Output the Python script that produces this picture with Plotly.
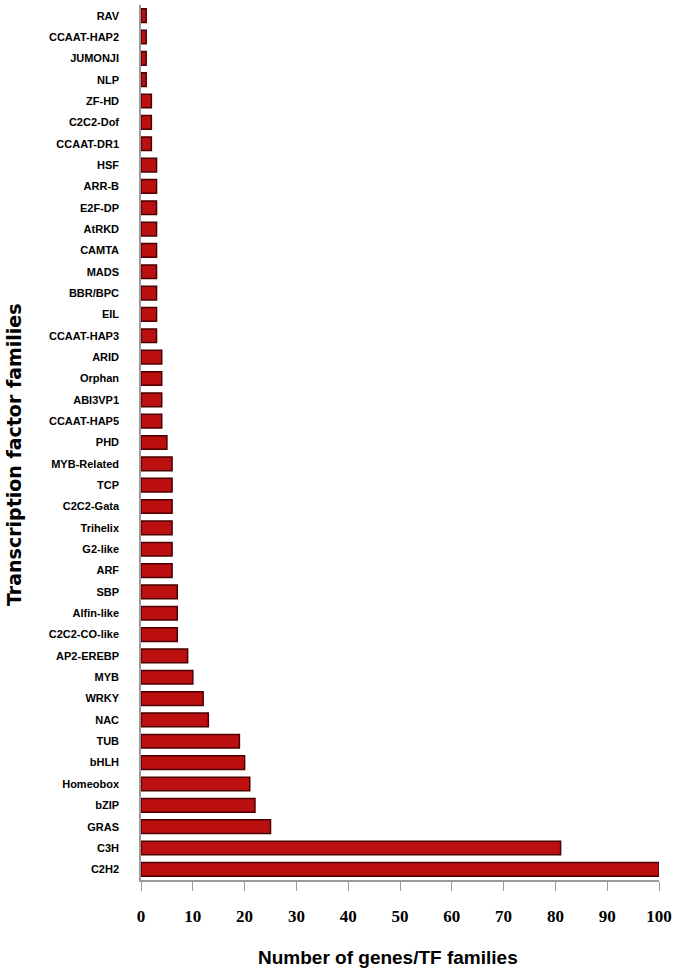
import plotly.graph_objects as go

families = ["RAV", "CCAAT-HAP2", "JUMONJI", "NLP", "ZF-HD", "C2C2-Dof", "CCAAT-DR1",
            "HSF", "ARR-B", "E2F-DP", "AtRKD", "CAMTA", "MADS", "BBR/BPC", "EIL",
            "CCAAT-HAP3", "ARID", "Orphan", "ABI3VP1", "CCAAT-HAP5", "PHD",
            "MYB-Related", "TCP", "C2C2-Gata", "Trihelix", "G2-like", "ARF", "SBP",
            "Alfin-like", "C2C2-CO-like", "AP2-EREBP", "MYB", "WRKY", "NAC", "TUB",
            "bHLH", "Homeobox", "bZIP", "GRAS", "C3H", "C2H2"]
counts = [1, 1, 1, 1, 2, 2, 2,
          3, 3, 3, 3, 3, 3, 3, 3,
          3, 4, 4, 4, 4, 5,
          6, 6, 6, 6, 6, 6, 7,
          7, 7, 9, 10, 12, 13, 19,
          20, 21, 22, 25, 81, 100]
x_ticks = [0, 10, 20, 30, 40, 50, 60, 70, 80, 90, 100]

fig = go.Figure()
fig.add_trace(go.Bar(
    x=counts, y=families, orientation="h",
    marker=dict(color="#BC1010", line=dict(color="#4a0000", width=1.5)),
    width=0.64,
))

fig.update_layout(
    width=675, height=972,
    margin=dict(l=141, r=16, t=5, b=92, autoexpand=False),
    paper_bgcolor="white", plot_bgcolor="white",
    showlegend=False,
    xaxis=dict(
        range=[0, 100], tickvals=x_ticks, ticktext=[str(v) for v in x_ticks],
        automargin=False,
        showgrid=False, zeroline=False,
        showline=True, linecolor="#9a9a9a", linewidth=1.5,
        ticks="outside", ticklen=9, tickcolor="#9a9a9a",
        ticklabelstandoff=11,
        tickfont=dict(family="Liberation Serif", size=17, color="black", weight="bold"),
    ),
    yaxis=dict(
        autorange="reversed", automargin=False,
        showgrid=False, zeroline=False,
        showline=True, linecolor="#9a9a9a", linewidth=1.5,
        ticks="", ticklabelstandoff=18,
        tickfont=dict(family="Liberation Sans", size=11, color="black", weight="bold"),
    ),
    annotations=[
        dict(text="<b>Number of genes/TF families</b>", xref="paper", yref="paper",
             x=(388 - 141) / (675 - 141 - 16), y=0, yshift=-77, xanchor="center", yanchor="middle",
             showarrow=False,
             font=dict(family="Liberation Sans", size=19, color="black")),
        dict(text="<b>Transcription factor families</b>", xref="paper", yref="paper",
             x=0, xshift=-127, y=(880 - 455) / (880 - 5), xanchor="center", yanchor="middle",
             textangle=-90, showarrow=False,
             font=dict(family="DejaVu Sans", size=19, color="black")),
    ],
)

fig.write_html("out.html", config={"displayModeBar": False},
               post_script="document.body.style.margin='0';document.body.style.padding='0';")
